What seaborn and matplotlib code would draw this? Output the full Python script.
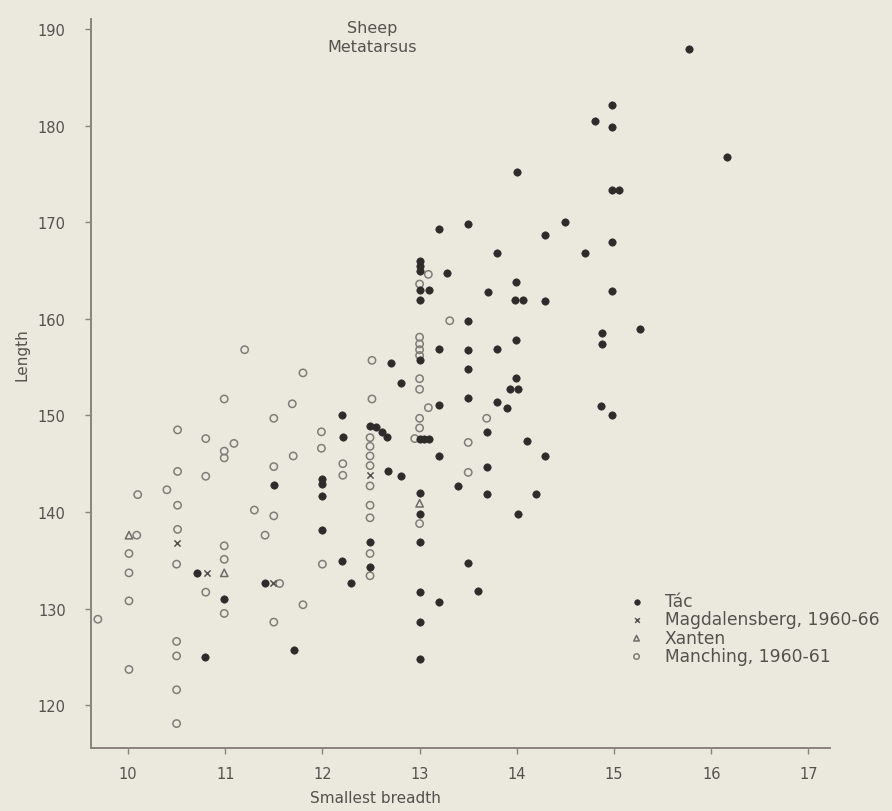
import numpy as np
import pandas as pd
import matplotlib
matplotlib.use("Agg")
import matplotlib.pyplot as plt
import seaborn as sns

# ---- data ----
tac_breadth = [15.77, 16.16, 14.98, 14.80, 14.98, 14.98, 15.05, 14.50, 14.29, 14.98,
               14.70, 14.98, 14.29, 15.27, 14.88, 14.88, 14.87, 14.98, 14.00,
               13.20, 13.50, 13.80, 13.00, 13.00, 13.00, 13.00, 13.10, 13.00, 13.28,
               13.99, 13.70, 13.98, 14.06, 13.50, 13.20, 13.50, 13.80, 13.99, 12.71,
               13.00, 13.50, 12.81, 13.99, 13.93, 14.01, 13.50, 13.20, 13.80, 13.90,
               13.00, 13.05, 13.10, 13.69, 14.11, 13.20, 14.29, 13.69, 13.40, 13.00,
               13.69, 14.20, 13.00, 14.01, 13.00, 13.50, 13.00, 13.60, 13.20, 13.00,
               13.00,
               12.20, 12.49, 12.55, 12.61, 12.66, 12.21, 12.68, 12.81, 12.00, 12.00,
               12.00, 11.50, 12.00, 12.49, 12.49, 12.20, 12.29, 11.41, 11.71,
               10.71, 10.99, 10.79]
tac_length = [187.9, 176.7, 182.1, 180.5, 179.9, 173.3, 173.3, 170.0, 168.7, 167.9,
              166.8, 162.9, 161.8, 158.9, 158.5, 157.4, 151.0, 150.0, 175.2,
              169.3, 169.8, 166.8, 166.0, 165.5, 165.0, 163.0, 163.0, 161.9, 164.7,
              163.8, 162.8, 161.9, 161.9, 159.8, 156.9, 156.8, 156.9, 157.8, 155.4,
              155.7, 154.8, 153.4, 153.9, 152.7, 152.7, 151.8, 151.1, 151.4, 150.8,
              147.6, 147.6, 147.6, 148.3, 147.4, 145.8, 145.8, 144.7, 142.7, 142.0,
              141.9, 141.9, 139.8, 139.8, 136.9, 134.7, 131.7, 131.8, 130.7, 128.6,
              124.8,
              150.0, 148.9, 148.8, 148.3, 147.8, 147.8, 144.2, 143.7, 143.4, 142.9,
              141.7, 142.8, 138.1, 136.9, 134.3, 134.9, 132.7, 132.6, 125.7,
              133.7, 131.0, 125.0]

magd_breadth = [10.50, 10.81, 11.49, 12.49]
magd_length = [136.8, 133.7, 132.6, 143.8]

xanten_breadth = [10.01, 10.99, 13.00]
xanten_length = [137.6, 133.7, 140.9]

manch_breadth = [10.99, 11.50, 10.51, 10.80, 11.09, 10.99, 10.99, 11.50, 10.51, 10.80,
                 10.10, 10.40, 10.51, 11.30, 11.50, 11.41, 10.09, 10.51, 10.99, 10.01,
                 10.99, 10.50, 10.01, 11.56, 10.80, 10.99, 10.01, 9.69, 11.50, 10.50,
                 10.50, 10.01, 10.50, 10.50, 11.20,
                 12.51, 11.80, 12.51, 11.69, 11.99, 12.49, 11.99, 11.70, 12.49, 12.49,
                 12.49, 12.21, 12.21, 12.49, 12.49, 12.49, 12.49, 12.00, 12.49, 11.80,
                 13.09, 13.00, 13.31, 13.00, 13.00, 13.00, 13.00, 13.00, 13.00, 13.09,
                 13.00, 13.00, 12.95, 13.69, 13.50, 13.50, 13.00]
manch_length = [151.7, 149.7, 148.5, 147.6, 147.1, 146.3, 145.6, 144.7, 144.2, 143.7,
                141.8, 142.3, 140.7, 140.2, 139.6, 137.6, 137.6, 138.2, 136.5, 135.7,
                135.1, 134.6, 133.7, 132.6, 131.7, 129.5, 130.8, 128.9, 128.6, 126.6,
                125.1, 123.7, 121.6, 118.1, 156.8,
                155.7, 154.4, 151.7, 151.2, 148.3, 147.7, 146.6, 145.8, 146.8, 145.8,
                144.8, 145.0, 143.8, 142.7, 140.7, 139.4, 135.7, 134.6, 133.4, 130.4,
                164.6, 163.6, 159.8, 158.1, 157.4, 156.8, 156.2, 153.8, 152.7, 150.8,
                149.7, 148.7, 147.6, 149.7, 147.2, 144.1, 138.8]

site_labels = ["Tác", "Magdalensberg, 1960-66", "Xanten", "Manching, 1960-61"]
x_ticks = [10, 11, 12, 13, 14, 15, 16, 17]
y_ticks = [120, 130, 140, 150, 160, 170, 180, 190]

df = pd.concat([
    pd.DataFrame({"breadth": tac_breadth, "length": tac_length, "site": site_labels[0]}),
    pd.DataFrame({"breadth": magd_breadth, "length": magd_length, "site": site_labels[1]}),
    pd.DataFrame({"breadth": xanten_breadth, "length": xanten_length, "site": site_labels[2]}),
    pd.DataFrame({"breadth": manch_breadth, "length": manch_length, "site": site_labels[3]}),
], ignore_index=True)

# ---- style ----
BG = "#ebe9de"
TXT = "#55524e"
AX = "#8a827d"
sns.set_theme(style="white")
plt.rcParams["font.family"] = ["DejaVu Sans"]

W, H = 892, 812
fig = plt.figure(figsize=(W / 100, H / 100), dpi=100, facecolor=BG)
left_px, right_px, top_px, bot_px = 90.7, 830, 20, 749
ax = fig.add_axes([left_px / W, 1 - bot_px / H, (right_px - left_px) / W, (bot_px - top_px) / H])
ax.set_facecolor(BG)

sub = df[df.site == site_labels[3]]
sns.scatterplot(data=sub, x="breadth", y="length", ax=ax, marker="o", s=28,
                facecolor="none", edgecolor="#807d78", linewidth=1.1, label=site_labels[3], zorder=3)
sub = df[df.site == site_labels[2]]
sns.scatterplot(data=sub, x="breadth", y="length", ax=ax, marker="^", s=28,
                facecolor="none", edgecolor="#6e6b68", linewidth=1.1, label=site_labels[2], zorder=3)
sub = df[df.site == site_labels[1]]
sns.scatterplot(data=sub, x="breadth", y="length", ax=ax, marker="x", s=20,
                color="#55524f", linewidth=1.1, label=site_labels[1], zorder=3)
sub = df[df.site == site_labels[0]]
sns.scatterplot(data=sub, x="breadth", y="length", ax=ax, marker="o", s=28,
                color="#2e2c2b", edgecolor="#2e2c2b", linewidth=0.5, label=site_labels[0], zorder=4)

x_per_px = 1 / 97.2
ax.set_xlim(10 - (128 - left_px) * x_per_px, 10 + (right_px - 128) * x_per_px)
y_per_px = 10 / 96.6
ax.set_ylim(190 - (bot_px - 30) * y_per_px, 190 + (30 - top_px) * y_per_px)
ax.set_xticks(x_ticks)
ax.set_yticks(y_ticks)
ax.set_xticklabels([str(t) for t in x_ticks])
ax.set_yticklabels([str(t) for t in y_ticks])
ax.set_xlabel("")
ax.set_ylabel("")

for side in ["top", "right"]:
    ax.spines[side].set_visible(False)
for side in ["left", "bottom"]:
    ax.spines[side].set_color(AX)
    ax.spines[side].set_linewidth(1.4)
ax.tick_params(axis="both", which="major", direction="out", length=4, width=1,
               color=AX, labelcolor=TXT, labelsize=10.5, left=True, bottom=True)
ax.tick_params(axis="y", pad=14)
ax.tick_params(axis="x", pad=9)

fig.text(372 / W, 1 - 28 / H, "Sheep", ha="center", va="center", fontsize=11.5, color=TXT)
fig.text(372 / W, 1 - 47 / H, "Metatarsus", ha="center", va="center", fontsize=11.5, color=TXT)
fig.text(375 / W, 1 - 799 / H, "Smallest breadth", ha="center", va="center",
         fontsize=11, color=TXT)
fig.text(22 / W, 1 - 355 / H, "Length", ha="center", va="center", rotation=90,
         fontsize=11, color=TXT)

handles, labels = ax.get_legend_handles_labels()
order = [labels.index(l) for l in site_labels]
leg = ax.legend([handles[i] for i in order], [labels[i] for i in order],
                loc="upper left", bbox_to_anchor=(628 / W, 1 - 593 / H),
                bbox_transform=fig.transFigure, frameon=False, fontsize=12.3,
                handlelength=1.0, handletextpad=1.15, labelspacing=0.02,
                borderpad=0, borderaxespad=0, markerscale=0.75)
for t in leg.get_texts():
    t.set_color(TXT)

fig.savefig("out.png", dpi=100, facecolor=BG)
